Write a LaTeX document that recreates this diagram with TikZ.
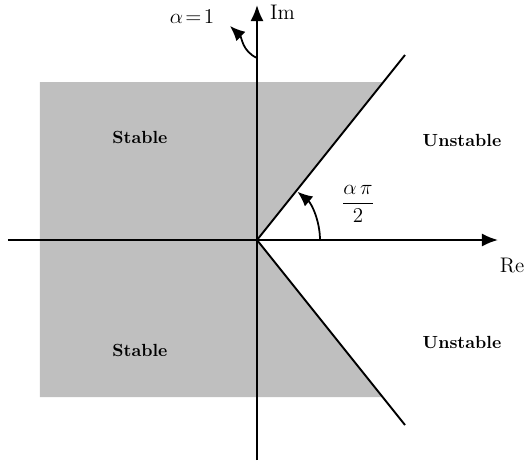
\documentclass[tikz,border=0pt]{standalone}
\usetikzlibrary{arrows.meta}
\tikzset{
  axis/.style={line width=1.1pt,-{Latex[length=3.2mm,width=2.6mm]}},
  region/.style={font=\normalsize\bfseries}
}
\begin{document}
\begin{tikzpicture}[x=1cm,y=1cm]
\useasboundingbox (-5.14,-4.54) rectangle (5.36,4.8);
\coordinate (O) at (0,0);
\coordinate (upper) at (2.96,3.7);
\coordinate (lower) at (2.96,-3.7);
% stable region
\fill[black!25] (-4.34,3.16) -- (2.52,3.16) -- (O) -- (2.52,-3.14) -- (-4.34,-3.14) -- cycle;
% axes
\coordinate (xl) at (-4.98,0);
\coordinate (xr) at (4.82,0);
\coordinate (yb) at (0,-4.4);
\coordinate (yt) at (0,4.7);
\draw[axis] (xl) -- (xr);
\draw[axis] (yb) -- (yt);
\node[anchor=west,font=\large] (im) at (0.14,4.56) {Im};
\node[font=\large] (re) at (5.1,-0.52) {Re};
% boundary lines
\draw[line width=1.1pt] (O) -- (upper);
\draw[line width=1.1pt] (O) -- (lower);
% angle
\draw[line width=1pt,-{Latex[length=3mm,width=2.6mm]}] (1.26,0) arc[start angle=0,end angle=50,radius=1.26];
\node[font=\large] (ang) at (2.02,0.72) {$\displaystyle\frac{\alpha\,\pi}{2}$};
% alpha = 1
\node[font=\large] (a1) at (-1.3,4.46) {$\alpha\!=\!1$};
\coordinate (a1s) at (0,3.64);
\draw[line width=1pt,-{Latex[length=3mm,width=2.6mm]}] (a1s) .. controls (-0.3,3.78) and (-0.3,4.05) .. (-0.54,4.28);
% labels
\node[region] (s1) at (-2.34,2.06) {Stable};
\node[region] (s2) at (-2.34,-2.2) {Stable};
\node[region] (u1) at (4.1,2.0) {Unstable};
\node[region] (u2) at (4.1,-2.04) {Unstable};
\end{tikzpicture}
\end{document}
